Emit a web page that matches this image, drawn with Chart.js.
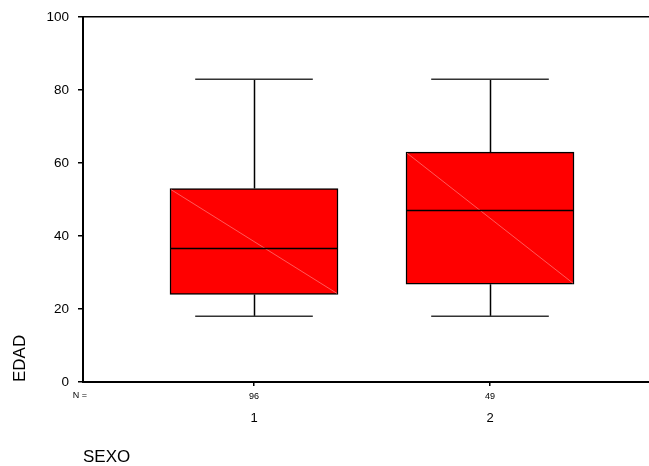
<!DOCTYPE html>
<html>
<head>
<meta charset="utf-8">
<script src="https://cdn.jsdelivr.net/npm/chart.js@4/dist/chart.umd.min.js"></script>
<style>
  body { margin: 0; background: #fff; }
  canvas { display: block; }
</style>
</head>
<body>
<canvas id="chart" width="649" height="466"></canvas>
<script>
// data
const categories = [1, 2];
const categoryLabels = ['1', '2'];
const nCounts = [96, 49];
const whiskerLow = [18, 18];
const q1 = [24, 26.8];
const median = [36.6, 47];
const q3 = [53, 63];
const whiskerHigh = [83, 83];
const yTicks = [0, 20, 40, 60, 80, 100];

const FONT = 'Arial, "Liberation Sans", sans-serif';

// whiskers, caps, median and the thin diagonal inside each box
const boxLines = {
    id: 'boxLines',
    afterDatasetsDraw: function(chart) {
        const ctx = chart.ctx;
        const y = chart.scales.y;
        const meta = chart.getDatasetMeta(0);
        ctx.save();
        meta.data.forEach((bar, i) => {
            const left = bar.x - bar.width / 2;
            const right = bar.x + bar.width / 2;
            const capHalf = bar.width * 0.35;
            const xc = Math.round(bar.x) + 0.5;

            // diagonal
            ctx.strokeStyle = 'rgba(255,140,140,0.8)';
            ctx.lineWidth = 0.8;
            ctx.beginPath();
            ctx.moveTo(left + 1, y.getPixelForValue(q3[i]) + 1);
            ctx.lineTo(right - 1, y.getPixelForValue(q1[i]) - 1);
            ctx.stroke();

            ctx.strokeStyle = '#000';
            ctx.lineWidth = 1.5;
            // median
            ctx.beginPath();
            ctx.moveTo(left, y.getPixelForValue(median[i]));
            ctx.lineTo(right, y.getPixelForValue(median[i]));
            ctx.stroke();

            // whiskers
            ctx.beginPath();
            ctx.moveTo(xc, y.getPixelForValue(q3[i]));
            ctx.lineTo(xc, y.getPixelForValue(whiskerHigh[i]));
            ctx.moveTo(xc, y.getPixelForValue(q1[i]));
            ctx.lineTo(xc, y.getPixelForValue(whiskerLow[i]));
            ctx.stroke();

            // caps
            ctx.strokeStyle = '#333';
            ctx.beginPath();
            ctx.moveTo(bar.x - capHalf, y.getPixelForValue(whiskerHigh[i]));
            ctx.lineTo(bar.x + capHalf, y.getPixelForValue(whiskerHigh[i]));
            ctx.moveTo(bar.x - capHalf, y.getPixelForValue(whiskerLow[i]));
            ctx.lineTo(bar.x + capHalf, y.getPixelForValue(whiskerLow[i]));
            ctx.stroke();
        });

        // "N =" in front of the counts row
        const xs = chart.scales.x;
        ctx.fillStyle = '#000';
        ctx.font = '9px ' + FONT;
        ctx.textAlign = 'center';
        ctx.textBaseline = 'middle';
        ctx.fillText('N =', chart.chartArea.left - 3, xs.top + 14);
        ctx.restore();
    }
};

const boxData = categories.map((c, i) => ({ x: c, y: [q1[i], q3[i]] }));

const xRange = { min: 0.2754, max: 2.6737 };

new Chart(document.getElementById('chart'), {
    type: 'bar',
    data: {
        datasets: [{
            data: boxData,
            backgroundColor: '#ff0000',
            borderColor: '#000',
            borderWidth: 1.5,
            borderSkipped: false,
            barThickness: 168
        }]
    },
    options: {
        responsive: false,
        animation: false,
        layout: { padding: { top: 16, right: 0, bottom: 0, left: 0 } },
        plugins: {
            legend: { display: false },
            tooltip: { enabled: false }
        },
        scales: {
            x: {
                type: 'linear',
                position: 'bottom',
                weight: 0,
                offset: false,
                min: xRange.min,
                max: xRange.max,
                afterBuildTicks: (scale) => { scale.ticks = categories.map(v => ({ value: v })); },
                afterFit: (scale) => { scale.height = 26; },
                ticks: {
                    color: '#000',
                    padding: 5,
                    maxRotation: 0,
                    font: { family: FONT, size: 9 },
                    callback: (v) => String(nCounts[categories.indexOf(v)])
                },
                grid: { offset: false, drawOnChartArea: false, tickLength: 4, tickColor: '#000', lineWidth: 1.5 },
                border: { color: '#000', width: 2 }
            },
            x2: {
                type: 'linear',
                position: 'bottom',
                weight: 1,
                offset: false,
                min: xRange.min,
                max: xRange.max,
                afterBuildTicks: (scale) => { scale.ticks = categories.map(v => ({ value: v })); },
                afterFit: (scale) => { scale.height = 58; },
                ticks: {
                    color: '#000',
                    padding: 3,
                    maxRotation: 0,
                    font: { family: FONT, size: 13 },
                    callback: (v) => categoryLabels[categories.indexOf(v)]
                },
                grid: { offset: false, display: false, drawTicks: false },
                border: { display: false },
                title: {
                    display: true,
                    text: 'SEXO',
                    align: 'start',
                    color: '#000',
                    font: { family: FONT, size: 17, lineHeight: 1 },
                    padding: { top: 0, bottom: 0 }
                }
            },
            y: {
                min: 0,
                max: 100,
                afterBuildTicks: (scale) => { scale.ticks = yTicks.map(v => ({ value: v })); },
                afterFit: (scale) => { scale.width = 83; },
                ticks: {
                    color: '#000',
                    padding: 9,
                    font: { family: FONT, size: 13.5 }
                },
                grid: {
                    drawOnChartArea: true,
                    tickLength: 5,
                    tickColor: '#000',
                    lineWidth: 1.5,
                    color: (c) => (c.tick && c.tick.value === 100 ? '#000' : 'rgba(0,0,0,0)')
                },
                border: { color: '#000', width: 2 },
                title: {
                    display: true,
                    text: 'EDAD',
                    align: 'start',
                    color: '#000',
                    font: { family: FONT, size: 17, lineHeight: 1.2 },
                    padding: { top: 10, bottom: 0 }
                }
            }
        }
    },
    plugins: [boxLines]
});
</script>
</body>
</html>
